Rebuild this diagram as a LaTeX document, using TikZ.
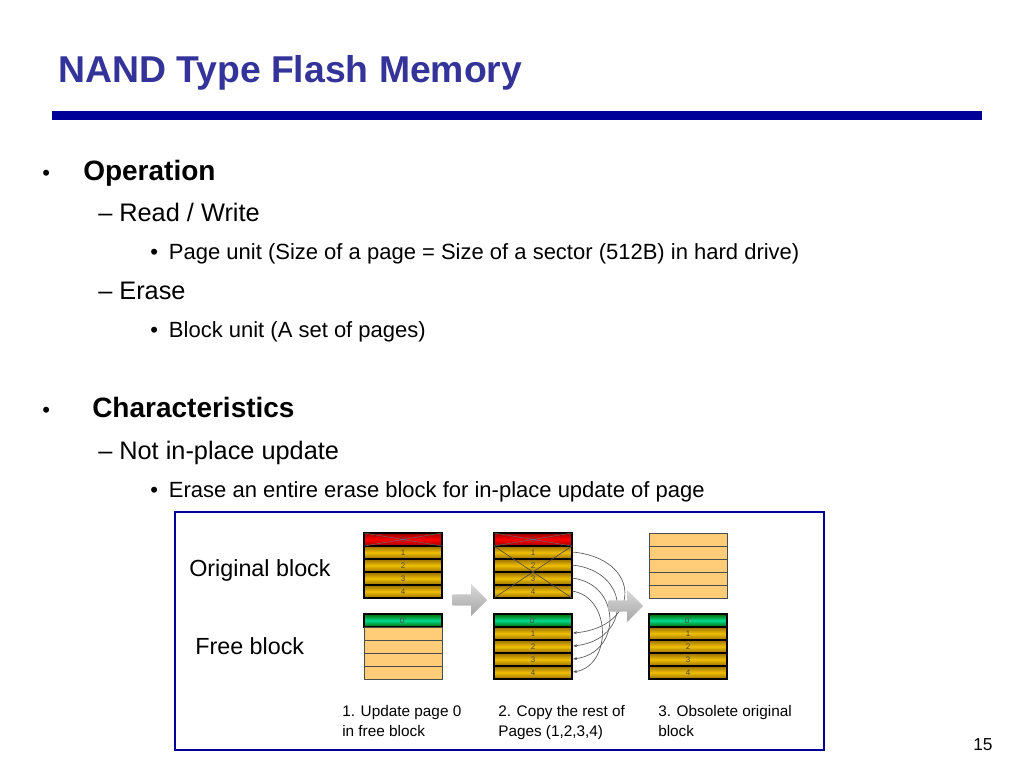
\documentclass[tikz,border=0pt]{standalone}
\usepackage{fontspec}
\setmainfont{Liberation Sans}
\usetikzlibrary{shapes.arrows,arrows.meta}
\definecolor{ttl}{RGB}{51,51,153}
\definecolor{navy}{RGB}{0,0,153}
\definecolor{gold}{RGB}{240,190,0}
\definecolor{golddk}{RGB}{150,110,0}
\definecolor{pale}{RGB}{255,204,120}
\definecolor{grn}{RGB}{0,220,140}
\tikzset{
 row/.style={draw=black,line width=0.8pt,top color=golddk,bottom color=golddk,middle color=gold},
 prow/.style={draw=black!70,line width=0.6pt,fill=pale},
 rrow/.style={draw=black,line width=0.8pt,top color=red!60!black,bottom color=red!60!black,middle color=red},
 greenrow/.style={draw=black,line width=0.8pt,top color=green!40!black,bottom color=green!40!black,middle color=grn},
 num/.style={font=\fontsize{6}{7}\selectfont,text=black!70},
 txt/.style={anchor=base west,inner sep=0pt},
 garrow/.style={single arrow,draw=none,top color=gray!30,bottom color=gray!70,minimum height=26,minimum width=24,single arrow head extend=4,inner sep=2pt}
}
\begin{document}
\begin{tikzpicture}[x=0.75pt,y=-0.75pt]
\useasboundingbox (0,0) rectangle (1024,768);
\node[txt,text=ttl,font=\fontsize{28}{32}\selectfont\bfseries] (title) at (58,82) {NAND Type Flash Memory};
\fill[navy] (52,111) rectangle (982,120);
\node[txt,font=\fontsize{16.5}{20}\selectfont] (b1) at (42,180) {•};
\node[txt,font=\fontsize{21}{24}\selectfont\bfseries] (op) at (83,180) {Operation};
\node[txt,font=\fontsize{19}{22}\selectfont] (rw) at (98,221) {– Read / Write};
\node[txt,font=\fontsize{16.5}{20}\selectfont] (pu) at (150,259) {•\hspace{0.5em}Page unit (Size of a page = Size of a sector (512B) in hard drive)};
\node[txt,font=\fontsize{19}{22}\selectfont] (er) at (98,299) {– Erase};
\node[txt,font=\fontsize{16.5}{20}\selectfont] (bu) at (150,337) {•\hspace{0.5em}Block unit (A set of pages)};
\node[txt,font=\fontsize{16.5}{20}\selectfont] (b2) at (42,417) {•};
\node[txt,font=\fontsize{21}{24}\selectfont\bfseries] (ch) at (92,417) {Characteristics};
\node[txt,font=\fontsize{19}{22}\selectfont] (ni) at (98,459) {– Not in-place update};
\node[txt,font=\fontsize{16.5}{20}\selectfont] (ee) at (150,497) {•\hspace{0.5em}Erase an entire erase block for in-place update of page};
\draw[navy,line width=2.2pt] (175,512) rectangle (824,750);
\node[txt,font=\fontsize{17.5}{20}\selectfont] (ob) at (189,576) {Original block};
\node[txt,font=\fontsize{17.5}{20}\selectfont] (fb) at (195,654) {Free block};
% block 1
\foreach \i/\s/\l in {0/rrow/0,1/row/1,2/row/2,3/row/3,4/row/4}
  \draw[\s] (364,533+13*\i) rectangle (442,546+13*\i) node[num,midway]{\l};
\draw[black!60,line width=0.4pt] (364,533)--(442,546) (364,546)--(442,533);
\draw[greenrow] (364,614) rectangle (442,627) node[num,midway]{0'};
\foreach \i in {1,...,4} \draw[prow] (364,614+13*\i) rectangle (442,627+13*\i);
% block 2
\foreach \i/\s/\l in {0/rrow/0,1/row/1,2/row/2,3/row/3,4/row/4}
  \draw[\s] (494,533+13*\i) rectangle (572,546+13*\i) node[num,midway]{\l};
\draw[black!60,line width=0.4pt] (494,533)--(572,546) (494,546)--(572,533);
\draw[black!70,line width=0.5pt] (494,546)--(572,598) (494,598)--(572,546);
\draw[greenrow] (494,614) rectangle (572,627) node[num,midway]{0'};
\foreach \i in {1,...,4} \draw[row] (494,614+13*\i) rectangle (572,627+13*\i) node[num,midway]{\i};
\foreach \i/\r in {1/28,2/24,3/20,4/16}
  \draw[gray!70!black,line width=0.5pt,-{Stealth[length=3pt]}] (572,539+13*\i) .. controls (572+\r*2.5,545+13*\i) and (572+\r*2.5,614+13*\i) .. (573,620+13*\i);
% block 3
\foreach \i in {0,...,4} \draw[prow] (649,533+13*\i) rectangle (727,546+13*\i);
\draw[greenrow] (649,614) rectangle (727,627) node[num,midway]{0'};
\foreach \i in {1,...,4} \draw[row] (649,614+13*\i) rectangle (727,627+13*\i) node[num,midway]{\i};
\node[garrow] (a1) at (467,600) {};
\node[garrow] (a2) at (623,606) {};
\node[txt,font=\fontsize{11.5}{15}\selectfont,align=left,anchor=north west] (c1) at (342,705) {1. Update page 0\\in free block};
\node[txt,font=\fontsize{11.5}{15}\selectfont,align=left,anchor=north west] (c2) at (498,705) {2. Copy the rest of\\Pages (1,2,3,4)};
\node[txt,font=\fontsize{11.5}{15}\selectfont,align=left,anchor=north west] (c3) at (658,705) {3. Obsolete original\\block};
\node[txt,font=\fontsize{13}{15}\selectfont] (pg) at (973,750) {15};
\end{tikzpicture}
\end{document}
